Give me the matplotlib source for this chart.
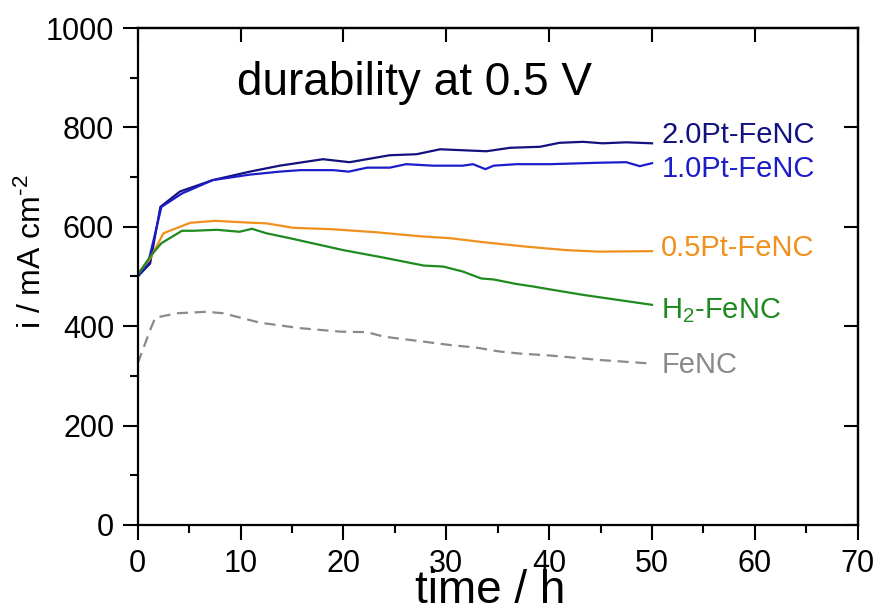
import matplotlib
matplotlib.use('Agg')
import matplotlib.pyplot as plt
from matplotlib.ticker import MultipleLocator, NullLocator

plt.rcParams['font.family'] = ['Liberation Sans', 'DejaVu Sans']
plt.rcParams['mathtext.fontset'] = 'custom'
plt.rcParams['mathtext.rm'] = 'Liberation Sans'
plt.rcParams['mathtext.it'] = 'Liberation Sans:italic'

# durability curves (time in h, current density in mA cm-2)
t_20 = [0, 1.2, 2.2, 4.1, 7.3, 10.9, 13.8, 18.0, 20.6, 24.5, 27.1, 29.4, 33.9, 36.2, 39.1, 41.0, 43.3, 45.2, 47.5, 50.0]
i_20 = [500, 526, 640, 671, 694, 711, 723, 736, 730, 744, 746, 756, 752, 759, 761, 769, 771, 768, 770, 768]

t_10 = [0, 1.0, 2.3, 4.3, 7.3, 10.9, 13.8, 15.8, 19.0, 20.5, 22.3, 24.5, 26.1, 28.7, 31.6, 32.6, 33.8, 34.6, 36.8, 40.1, 45.0, 47.5, 48.8, 50.0]
i_10 = [500, 526, 640, 667, 694, 705, 711, 714, 714, 711, 719, 719, 726, 723, 723, 726, 716, 723, 726, 726, 729, 730, 722, 728]

t_05 = [0, 1.2, 2.5, 5.1, 7.5, 11.2, 12.5, 15.1, 19.0, 23.2, 27.4, 30.4, 33.6, 37.8, 41.7, 44.9, 50.0]
i_05 = [506, 536, 587, 608, 612, 608, 607, 598, 595, 589, 581, 577, 569, 560, 553, 550, 551]

t_h2 = [0, 1.2, 2.3, 4.3, 5.4, 7.7, 9.9, 11.1, 12.5, 14.8, 20.0, 23.9, 27.8, 29.7, 31.6, 33.4, 34.6, 36.8, 38.4, 40.1, 43.3, 50.0]
i_h2 = [503, 540, 567, 592, 592, 594, 590, 596, 587, 577, 553, 538, 522, 520, 510, 496, 494, 485, 480, 474, 463, 443]

t_fe = [0, 1.2, 1.7, 3.8, 6.7, 8.3, 11.9, 15.8, 19.7, 22.3, 23.9, 27.4, 30.4, 32.9, 35.2, 37.1, 40.1, 44.9, 49.8]
i_fe = [325, 392, 417, 426, 429, 426, 407, 396, 389, 388, 379, 370, 362, 357, 349, 345, 341, 332, 325]

labels = ['2.0Pt-FeNC', '1.0Pt-FeNC', '0.5Pt-FeNC', 'H$_2$-FeNC', 'FeNC']
label_y = [784, 716, 558, 431, 322]
colors = ['#12127e', '#1c1cc8', '#f0901e', '#1f8a1f', '#8a8a8a']

fig = plt.figure(figsize=(8.79, 6.13), dpi=100)
ax = fig.add_axes([0.1567, 0.1436, 0.8191, 0.8107])

series = [(t_20, i_20), (t_10, i_10), (t_05, i_05), (t_h2, i_h2), (t_fe, i_fe)]
for k, (t, i) in enumerate(series):
    if labels[k] == 'FeNC':
        ax.plot(t, i, color=colors[k], lw=1.6, dashes=(5, 3))
    else:
        ax.plot(t, i, color=colors[k], lw=1.6)
    ax.text(50.9, label_y[k], labels[k], color=colors[k], fontsize=21,
            ha='left', va='center')

ax.text(9.65, 865, 'durability at 0.5 V', fontsize=33, ha='left', va='baseline')

ax.set_xlim(0, 70)
ax.set_ylim(0, 1000)
ax.xaxis.set_major_locator(MultipleLocator(10))
ax.xaxis.set_minor_locator(MultipleLocator(5))
ax.yaxis.set_major_locator(MultipleLocator(200))
ax.yaxis.set_minor_locator(MultipleLocator(100))
ax.tick_params(which='major', direction='out', length=11, width=1.5, labelsize=22, pad=6)
ax.tick_params(which='minor', direction='out', length=6, width=1.5)
for s in ax.spines.values():
    s.set_linewidth(1.6)

# inward major ticks on top and right
top = ax.secondary_xaxis('top')
top.xaxis.set_major_locator(MultipleLocator(10))
top.xaxis.set_minor_locator(NullLocator())
top.tick_params(direction='in', length=10, width=1.5, labeltop=False)
right = ax.secondary_yaxis('right')
right.yaxis.set_major_locator(MultipleLocator(200))
right.yaxis.set_minor_locator(NullLocator())
right.tick_params(direction='in', length=10, width=1.5, labelright=False)
top.spines['top'].set_linewidth(1.6)
right.spines['right'].set_linewidth(1.6)

ax.set_xlabel('time / h', fontsize=33)
ax.xaxis.set_label_coords(0.489, -0.088)
ax.set_ylabel(r'i / mA cm$^{\text{-}2}$', fontsize=23)
ax.yaxis.set_label_coords(-0.124, 0.55)

fig.savefig('out.png', dpi=100)
